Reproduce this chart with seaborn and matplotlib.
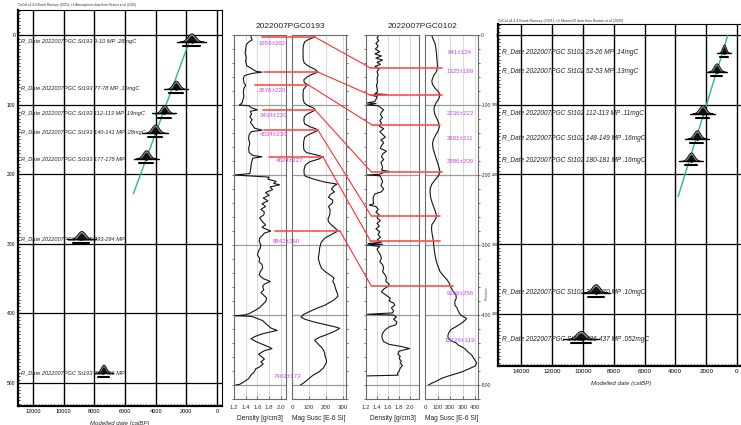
import numpy as np
import matplotlib
matplotlib.use("Agg")
import matplotlib.pyplot as plt
import seaborn as sns
from matplotlib.lines import Line2D
from matplotlib.transforms import blended_transform_factory
from matplotlib.ticker import MultipleLocator, FuncFormatter

# ---------------------------------------------------------------- data
# Radiocarbon dates, core St193 (sample depth in cm, age in cal BP, 1 sigma)
st193_depth = [9.5, 77.5, 112.5, 140.5, 177.5, 293.5, 485.5]
st193_age = [1659, 2676, 3434, 4034, 4624, 8842, 7402]
st193_sd = [262, 220, 220, 230, 227, 260, 173]
st193_name = ["9-10 MP .28mgC", "77-78 MP .16mgC", "112-113 MP .19mgC",
              "140-141 MP .28mgC", "177-178 MP", "293-294 MP", "485-486 MP"]

# Radiocarbon dates, core St102
st102_depth = [25.5, 52.5, 112.5, 148.5, 180.5, 369.5, 436.5]
st102_age = [841, 1325, 2236, 2601, 2986, 9169, 10129]
st102_sd = [124, 189, 222, 211, 209, 256, 319]
st102_name = ["25-26 MP .14mgC", "52-53 MP .13mgC", "112-113 MP .11mgC",
              "148-149 MP .16mgC", "180-181 MP .16mgC", "369-370 MP .10mgC",
              "436-437 MP .052mgC"]

# Age-depth model lines
model193_age = [1650, 5450]
model193_depth = [0, 228]
model102_age = [590, 3820]
model102_depth = [0, 232]

# Density log, St193
dens193_depth = [0, 3, 7, 10, 14, 20, 26, 32, 38, 44, 48, 52, 53, 55, 58, 62, 68, 72, 76, 82, 88, 93, 97,
                 100, 101, 104, 107, 109, 113, 117, 121, 125, 129, 133, 136, 138, 142, 148, 155, 162, 168,
                 172, 174, 176, 182, 188, 194, 198, 200, 201, 203, 206, 209, 212, 214, 217, 221, 225, 229,
                 233, 237, 241, 245, 249, 253, 257, 261, 264, 268, 271, 275, 280, 283, 286, 290, 295, 300,
                 304, 309, 314, 319, 324, 328, 333, 338, 343, 348, 352, 356, 359, 364, 368, 371, 376, 381,
                 386, 390, 394, 398, 400, 401, 402, 405, 408, 412, 415, 419, 422, 425, 427, 431, 434, 438,
                 441, 445, 448, 451, 456, 460, 463, 467, 470, 474, 477, 481, 486, 491, 496, 499, 500]
dens193 = [1.50, 1.49, 1.51, 1.45, 1.41, 1.40, 1.39, 1.41, 1.40, 1.42, 1.50, 1.58, 1.68, 1.50, 1.38, 1.36,
           1.37, 1.40, 1.37, 1.36, 1.37, 1.35, 1.34, 1.29, 1.45, 1.50, 1.60, 1.48, 1.50, 1.47, 1.51, 1.48,
           1.52, 1.55, 1.68, 1.50, 1.46, 1.45, 1.47, 1.45, 1.46, 1.52, 1.68, 1.52, 1.50, 1.49, 1.48, 1.47,
           1.21, 1.40, 1.80, 1.78, 1.92, 1.88, 1.98, 1.82, 1.86, 1.74, 1.80, 1.70, 1.78, 1.68, 1.74, 1.66,
           1.72, 1.71, 1.64, 1.66, 1.70, 1.74, 1.68, 1.83, 1.72, 1.69, 1.64, 1.63, 1.66, 1.65, 1.62, 1.60,
           1.64, 1.63, 1.68, 1.69, 1.65, 1.63, 1.70, 1.82, 1.72, 1.69, 1.71, 1.66, 1.70, 1.76, 1.74, 1.68,
           1.63, 1.55, 1.46, 1.38, 1.22, 1.50, 1.60, 1.69, 1.74, 1.78, 1.84, 1.94, 1.78, 1.68, 1.55, 1.49,
           1.58, 1.66, 1.78, 1.85, 1.72, 1.62, 1.68, 1.72, 1.66, 1.70, 1.64, 1.57, 1.55, 1.49, 1.45, 1.36,
           1.30, 1.23]

# Magnetic susceptibility log, St193
mag193_depth = [0, 3, 6, 10, 15, 20, 28, 35, 40, 45, 49, 53, 56, 60, 64, 68, 71, 74, 78, 85, 92, 97, 101,
                104, 107, 110, 113, 117, 122, 127, 131, 134, 136, 139, 142, 146, 152, 158, 164, 168, 171,
                174, 177, 181, 186, 192, 198, 202, 206, 210, 213, 216, 220, 224, 228, 232, 236, 240, 245,
                250, 257, 263, 267, 272, 276, 280, 284, 290, 296, 304, 311, 319, 326, 333, 338, 343, 347,
                352, 356, 361, 366, 370, 373, 378, 382, 386, 390, 395, 399, 403, 406, 410, 414, 417, 419,
                422, 426, 429, 432, 436, 440, 443, 446, 450, 454, 458, 462, 467, 471, 476, 481, 486, 491,
                496, 500]
mag193 = [125, 135, 100, 74, 67, 65, 65, 66, 72, 100, 135, 153, 120, 88, 70, 72, 92, 80, 67, 65, 66, 72,
          95, 125, 137, 115, 88, 72, 70, 74, 105, 140, 153, 130, 100, 75, 69, 68, 70, 85, 140, 182, 160,
          105, 78, 71, 71, 80, 130, 190, 265, 245, 232, 250, 225, 215, 240, 238, 215, 225, 222, 212, 215,
          235, 255, 271, 240, 194, 172, 163, 160, 155, 162, 173, 195, 225, 247, 240, 250, 255, 262, 268,
          271, 250, 222, 194, 150, 104, 70, 53, 75, 130, 200, 255, 280, 262, 225, 194, 160, 133, 148, 160,
          173, 185, 192, 194, 200, 204, 196, 184, 160, 124, 98, 75, 50]

# Density log, St102
dens102_depth = [0, 4, 8, 12, 16, 20, 24, 27, 30, 33, 36, 39, 42, 45, 48, 52, 57, 62, 67, 72, 77, 81, 84,
                 85, 86, 88, 92, 95, 97, 98, 100, 101, 104, 107, 110, 114, 118, 122, 126, 130, 134, 138,
                 142, 146, 150, 154, 158, 162, 166, 170, 174, 178, 182, 186, 190, 193, 195, 197, 199, 200,
                 201, 205, 210, 215, 220, 224, 227, 232, 237, 241, 243, 245, 249, 253, 257, 261, 265, 269,
                 273, 277, 281, 285, 289, 293, 296, 298, 299, 300, 302, 306, 310, 314, 319, 324, 328, 333,
                 338, 343, 347, 352, 356, 359, 363, 367, 371, 376, 380, 383, 386, 390, 394, 397, 399, 400,
                 403, 406, 410, 414, 417, 421, 425, 429, 433, 438, 442, 445, 448, 450, 452, 456, 459, 462,
                 466, 469, 472, 476, 480, 483, 486, 487]
dens102 = [1.44, 1.40, 1.43, 1.38, 1.42, 1.37, 1.45, 1.36, 1.48, 1.38, 1.50, 1.40, 1.46, 1.36, 1.44, 1.40,
           1.42, 1.40, 1.41, 1.39, 1.40, 1.41, 1.36, 1.58, 1.30, 1.40, 1.38, 1.36, 1.22, 1.38, 1.22, 1.42,
           1.47, 1.52, 1.48, 1.46, 1.50, 1.45, 1.48, 1.44, 1.52, 1.45, 1.50, 1.55, 1.47, 1.52, 1.48, 1.46,
           1.57, 1.50, 1.48, 1.52, 1.47, 1.49, 1.50, 1.48, 1.62, 1.50, 1.45, 1.22, 1.45, 1.48, 1.50, 1.47,
           1.52, 1.48, 1.36, 1.33, 1.33, 1.34, 1.26, 1.38, 1.42, 1.38, 1.44, 1.40, 1.46, 1.40, 1.44, 1.38,
           1.45, 1.42, 1.46, 1.40, 1.48, 1.24, 1.50, 1.22, 1.45, 1.40, 1.43, 1.46, 1.48, 1.45, 1.50, 1.52,
           1.50, 1.55, 1.57, 1.56, 1.62, 1.60, 1.52, 1.48, 1.55, 1.64, 1.62, 1.70, 1.72, 1.66, 1.70, 1.68,
           1.22, 1.70, 1.75, 1.70, 1.76, 1.74, 1.62, 1.55, 1.51, 1.49, 1.49, 1.52, 1.62, 1.84, 1.99, 1.88,
           1.79, 1.78, 1.82, 1.80, 1.84, 1.82, 1.86, 1.82, 1.80, 1.77, 1.78, 1.22]

# Magnetic susceptibility log, St102
mag102_depth = [0, 6, 12, 20, 28, 36, 42, 47, 52, 58, 65, 70, 76, 81, 86, 91, 97, 103, 108, 114, 120, 126,
                131, 137, 143, 149, 155, 162, 170, 178, 185, 191, 196, 201, 207, 213, 219, 225, 232, 240,
                247, 253, 259, 265, 271, 277, 283, 289, 294, 300, 307, 314, 320, 326, 332, 338, 344, 350,
                355, 358, 362, 366, 371, 376, 381, 386, 390, 395, 400, 405, 408, 412, 417, 421, 426, 430,
                433, 437, 440, 443, 446, 449, 453, 457, 462, 466, 469, 473, 477, 481, 484, 487, 490, 494,
                497, 500]
mag102 = [53, 65, 80, 88, 93, 96, 99, 99, 92, 70, 55, 58, 80, 108, 120, 110, 88, 74, 72, 80, 96, 110, 115,
          105, 85, 68, 60, 64, 78, 92, 105, 115, 120, 108, 80, 55, 42, 40, 45, 58, 72, 85, 93, 78, 55, 52,
          56, 62, 67, 70, 74, 80, 86, 95, 108, 120, 148, 178, 195, 200, 212, 225, 248, 250, 238, 240, 256,
          268, 285, 333, 318, 290, 245, 206, 188, 183, 185, 210, 250, 266, 300, 325, 345, 373, 390, 405,
          413, 400, 350, 300, 245, 190, 140, 95, 60, 27]

# Stratigraphic tie points between the two cores
tie193_depth = [3, 53, 71, 107, 136, 174, 280]
tie102_depth = [47, 86, 128, 196, 259, 294, 359]
tie193_dens = [1.68, 1.71, 1.56, 1.70, 1.71, 1.80, 1.90]
tie193_mag = [135, 153, 94, 135, 153, 182, 282]
tie102_dens = [1.28, 1.28, 1.30, 1.30, 1.30, 1.28, 1.30]
tie102_mag = [136, 136, 120, 136, 120, 120, 225]

age_labels193 = [f"{a}\u00b1{s}" for a, s in zip(st193_age, st193_sd)]
age_labels102 = [f"{a}\u00b1{s}" for a, s in zip(st102_age, st102_sd)]
# horizontal anchor of the St193 age labels, in density units
label193_x = [1.86, 1.86, 1.87, 1.88, 2.16, 2.09, 2.12]

# ---------------------------------------------------------------- figure
sns.set_theme(style="white")
plt.rcParams['font.family'] = ['Liberation Sans', 'DejaVu Sans']
plt.rcParams['axes.unicode_minus'] = False

W, H = 741, 425
fig = plt.figure(figsize=(W / 100, H / 100), dpi=100)
fig.patch.set_facecolor('white')


def panel(x0, y0, x1, y1):
    return fig.add_axes([x0 / W, 1 - y1 / H, (x1 - x0) / W, (y1 - y0) / H])


GREEN = '#27c06e'
RED = '#ff3030'
VIOLET = '#c448e6'


def age_model(ax, core, depths, ages, sds, names, m_age, m_depth, xlim, ylim,
              xticks, fs_lab, fs_tick, fs_ytick, ypad):
    for a in xticks:
        ax.axvline(a, color='black', lw=1.0, zorder=0)
    for d in range(0, 600, 100):
        ax.axhline(d, color='black', lw=0.9, zorder=0)
    sns.lineplot(x=m_age, y=m_depth, color=GREEN, lw=1.0, ax=ax,
                 estimator=None, sort=False, zorder=2)
    tr = blended_transform_factory(ax.transAxes, ax.transData)
    for d, a, s, n in zip(depths, ages, sds, names):
        x = np.linspace(a - 3 * s, a + 3 * s, 80)
        outer = np.exp(-0.5 * ((x - a) / s) ** 2)
        inner = np.exp(-0.5 * ((x - a) / (0.7 * s)) ** 2)
        ax.fill_between(x, d, d - 12 * outer, facecolor='#8c8c8c',
                        edgecolor='black', lw=0.6, zorder=3)
        ax.fill_between(x, d, d - 9 * inner, facecolor='#111111', lw=0, zorder=4)
        ax.plot([a - 3.6 * s, a + 3.6 * s], [d, d], color='black', lw=1.0, zorder=4)
        ax.plot([a - 2 * s, a + 2 * s], [d + 6, d + 6], color='black', lw=1.5, zorder=4)
        ax.text(0.015, d, f"R_Date 2022007PGC {core} {n}", transform=tr,
                fontsize=fs_lab, style='italic', va='center', ha='left',
                color='#222222', zorder=5)
    sns.scatterplot(x=ages, y=depths, ax=ax, color='black', s=4, zorder=6,
                    linewidth=0, legend=False)
    ax.set_xticks(xticks)
    ax.set_xticklabels([str(t) for t in xticks], fontsize=fs_tick)
    ax.set_yticks(range(0, 600, 100))
    ax.set_yticklabels([str(t) for t in range(0, 600, 100)], fontsize=fs_ytick)
    ax.xaxis.set_minor_locator(MultipleLocator(200))
    ax.yaxis.set_minor_locator(MultipleLocator(5))
    ax.tick_params(which='major', direction='in', length=2.5, width=0.8, pad=2,
                   bottom=True, left=True, colors='black')
    ax.tick_params(axis='y', which='major', pad=ypad)
    ax.tick_params(which='minor', direction='in', length=1.6, width=0.6,
                   bottom=True, left=True)
    ax.set_xlabel("")
    ax.set_ylabel("")
    for side in ('left', 'bottom'):
        ax.spines[side].set_linewidth(1.6)
        ax.spines[side].set_color('black')
    for side in ('top', 'right'):
        ax.spines[side].set_linewidth(0.8)
        ax.spines[side].set_color('black')
    # fix the view after all artists are in place
    ax.set_xlim(*xlim)
    ax.set_ylim(*ylim)


# ---- St193 age model (left)
ax_l = panel(18, 10, 222, 406)
age_model(ax_l, "St193", st193_depth, st193_age, st193_sd, st193_name,
          model193_age, model193_depth, (12980, -330), (533, -36),
          [12000, 10000, 8000, 6000, 4000, 2000, 0], 4.1, 4.0, 3.6, 2)
ax_l.set_xlabel("Modelled date (calBP)", fontsize=4.3, style='italic', labelpad=5)
fig.text(18 / W, 1 - 5 / H,
         "OxCal v4.4.4 Bronk Ramsey (2021); r:5 Atmospheric data from Reimer et al (2020)",
         fontsize=2.3, va='center', ha='left', color='#333333')

# ---- St102 age model (right)
ax_r = panel(498, 24, 745, 366)
age_model(ax_r, "St102", st102_depth, st102_age, st102_sd, st102_name,
          model102_age, model102_depth, (15510, -520), (475, -16),
          [14000, 12000, 10000, 8000, 6000, 4000, 2000, 0], 4.7, 4.5, 2.5, 0.1)
ax_r.spines['right'].set_visible(False)
ax_r.set_xlabel("Modelled date (calBP)", fontsize=4.4, style='italic', labelpad=5)
fig.text(498 / W, 1 - 21 / H,
         "OxCal v4.4.4 Bronk Ramsey (2021); r:5 Marine20 data from Heaton et al (2020)",
         fontsize=2.5, va='center', ha='left', color='#333333')


# ---- core logs
def core_panel(ax, vals, depths, xlim, xticks, ticklabels, xlabel):
    ax.set_facecolor('white')
    for t in xticks[1:]:
        ax.axvline(t, color='#d2d2d2', lw=0.6, zorder=0)
    for d in (100, 200, 300, 400, 500):
        ax.axhline(d, color='#9c9c9c', lw=0.9, zorder=0)
    sns.lineplot(x=vals, y=depths, orient='y', sort=False, estimator=None,
                 color='#151515', lw=0.8, ax=ax, zorder=2)
    ax.set_xticks(xticks)
    ax.set_xticklabels(ticklabels, fontsize=4.4, color='#333333')
    ax.set_xlabel(xlabel, fontsize=4.8, color='#222222', labelpad=4)
    ax.set_ylabel("")
    ax.set_yticks([])
    ax.tick_params(axis='x', direction='in', length=2.5, width=0.6, pad=4,
                   bottom=True, colors='#555555')
    ax.tick_params(axis='x', labelcolor='#333333')
    for sp in ax.spines.values():
        sp.set_color('#6a6a6a')
        sp.set_linewidth(0.8)
    ax.set_xlim(*xlim)
    ax.set_ylim(520, 0)


def depth_ticks(ax, side, labels):
    ax.yaxis.set_major_locator(MultipleLocator(100))
    ax.yaxis.set_minor_locator(MultipleLocator(20))
    if side == 'left':
        ax.tick_params(axis='y', which='both', left=True, right=False,
                       labelleft=False, direction='out', length=1.8, width=0.6,
                       colors='#555555')
    else:
        ax.yaxis.tick_right()
        ax.tick_params(axis='y', which='both', right=True, left=False,
                       labelright=labels, direction='out', length=1.5, width=0.6,
                       colors='#555555', labelsize=3.7, pad=0.6)
        if labels:
            ax.yaxis.set_major_formatter(FuncFormatter(
                lambda v, p: "0" if v == 0 else f"-{int(v)}"))
            ax.tick_params(axis='y', labelcolor='#333333')
    ax.set_ylim(520, 0)


dens_ticks = [1.2, 1.4, 1.6, 1.8, 2.0]
dens_lab = ["1.2", "1.4", "1.6", "1.8", "2.0"]

ax_d193 = panel(234, 35, 286, 399)
core_panel(ax_d193, dens193, dens193_depth, (1.2, 2.09), dens_ticks, dens_lab, "Density [g/cm3]")
depth_ticks(ax_d193, 'left', False)

ax_m193 = panel(292, 35, 346, 399)
core_panel(ax_m193, mag193, mag193_depth, (0, 318), [0, 100, 200, 300],
           ["0", "100", "200", "300"], "Mag Susc [E-6 SI]")
depth_ticks(ax_m193, 'right', False)

ax_d102 = panel(366, 35, 419, 399)
core_panel(ax_d102, dens102, dens102_depth, (1.2, 2.16), dens_ticks, dens_lab, "Density [g/cm3]")
depth_ticks(ax_d102, 'left', False)

ax_m102 = panel(425, 35, 478, 399)
core_panel(ax_m102, mag102, mag102_depth, (0, 424), [0, 100, 200, 300, 400],
           ["0", "100", "200", "300", "400"], "Mag Susc [E-6 SI]")
depth_ticks(ax_m102, 'right', True)
ax_m102.yaxis.set_label_position('right')
ax_m102.set_ylabel("Position", fontsize=2.8, color='#555555')
ax_m102.yaxis.set_label_coords(1.12, 0.29)

fig.text(290 / W, 1 - 27 / H, "2022007PGC0193", fontsize=6, ha='center', va='center',
         color='#222222')
fig.text(422 / W, 1 - 27 / H, "2022007PGC0102", fontsize=6, ha='center', va='center',
         color='#222222')

# modelled ages written beside each dated level
for d, lab, lx in zip(st193_depth, age_labels193, label193_x):
    fig.text(lx, d + 2, lab, transform=ax_d193.transData, fontsize=4.4,
             color=VIOLET, ha='center', va='center', zorder=6)
for d, lab in zip(st102_depth, age_labels102):
    fig.text(280, d, lab, transform=ax_m102.transData, fontsize=4.4,
             color=VIOLET, ha='center', va='center', zorder=6)

# correlation lines between the cores
inv = fig.transFigure.inverted()


def to_fig(ax, x, y):
    return inv.transform(ax.transData.transform((x, y)))


for i in range(len(tie193_depth)):
    p1 = to_fig(ax_d193, tie193_dens[i], tie193_depth[i])
    p2 = to_fig(ax_m193, tie193_mag[i], tie193_depth[i])
    p3 = to_fig(ax_d102, tie102_dens[i], tie102_depth[i])
    p4 = to_fig(ax_m102, tie102_mag[i], tie102_depth[i])
    fig.add_artist(Line2D([p1[0], p2[0]], [p1[1], p2[1]], color='#ff4a4a',
                          lw=1.3, alpha=0.9, zorder=5))
    fig.add_artist(Line2D([p2[0], p3[0]], [p2[1], p3[1]], color=RED,
                          lw=0.8, zorder=5))
    fig.add_artist(Line2D([p3[0], p4[0]], [p3[1], p4[1]], color='#ff4a4a',
                          lw=1.3, alpha=0.9, zorder=5))

fig.savefig("out.png", dpi=100, facecolor='white')
